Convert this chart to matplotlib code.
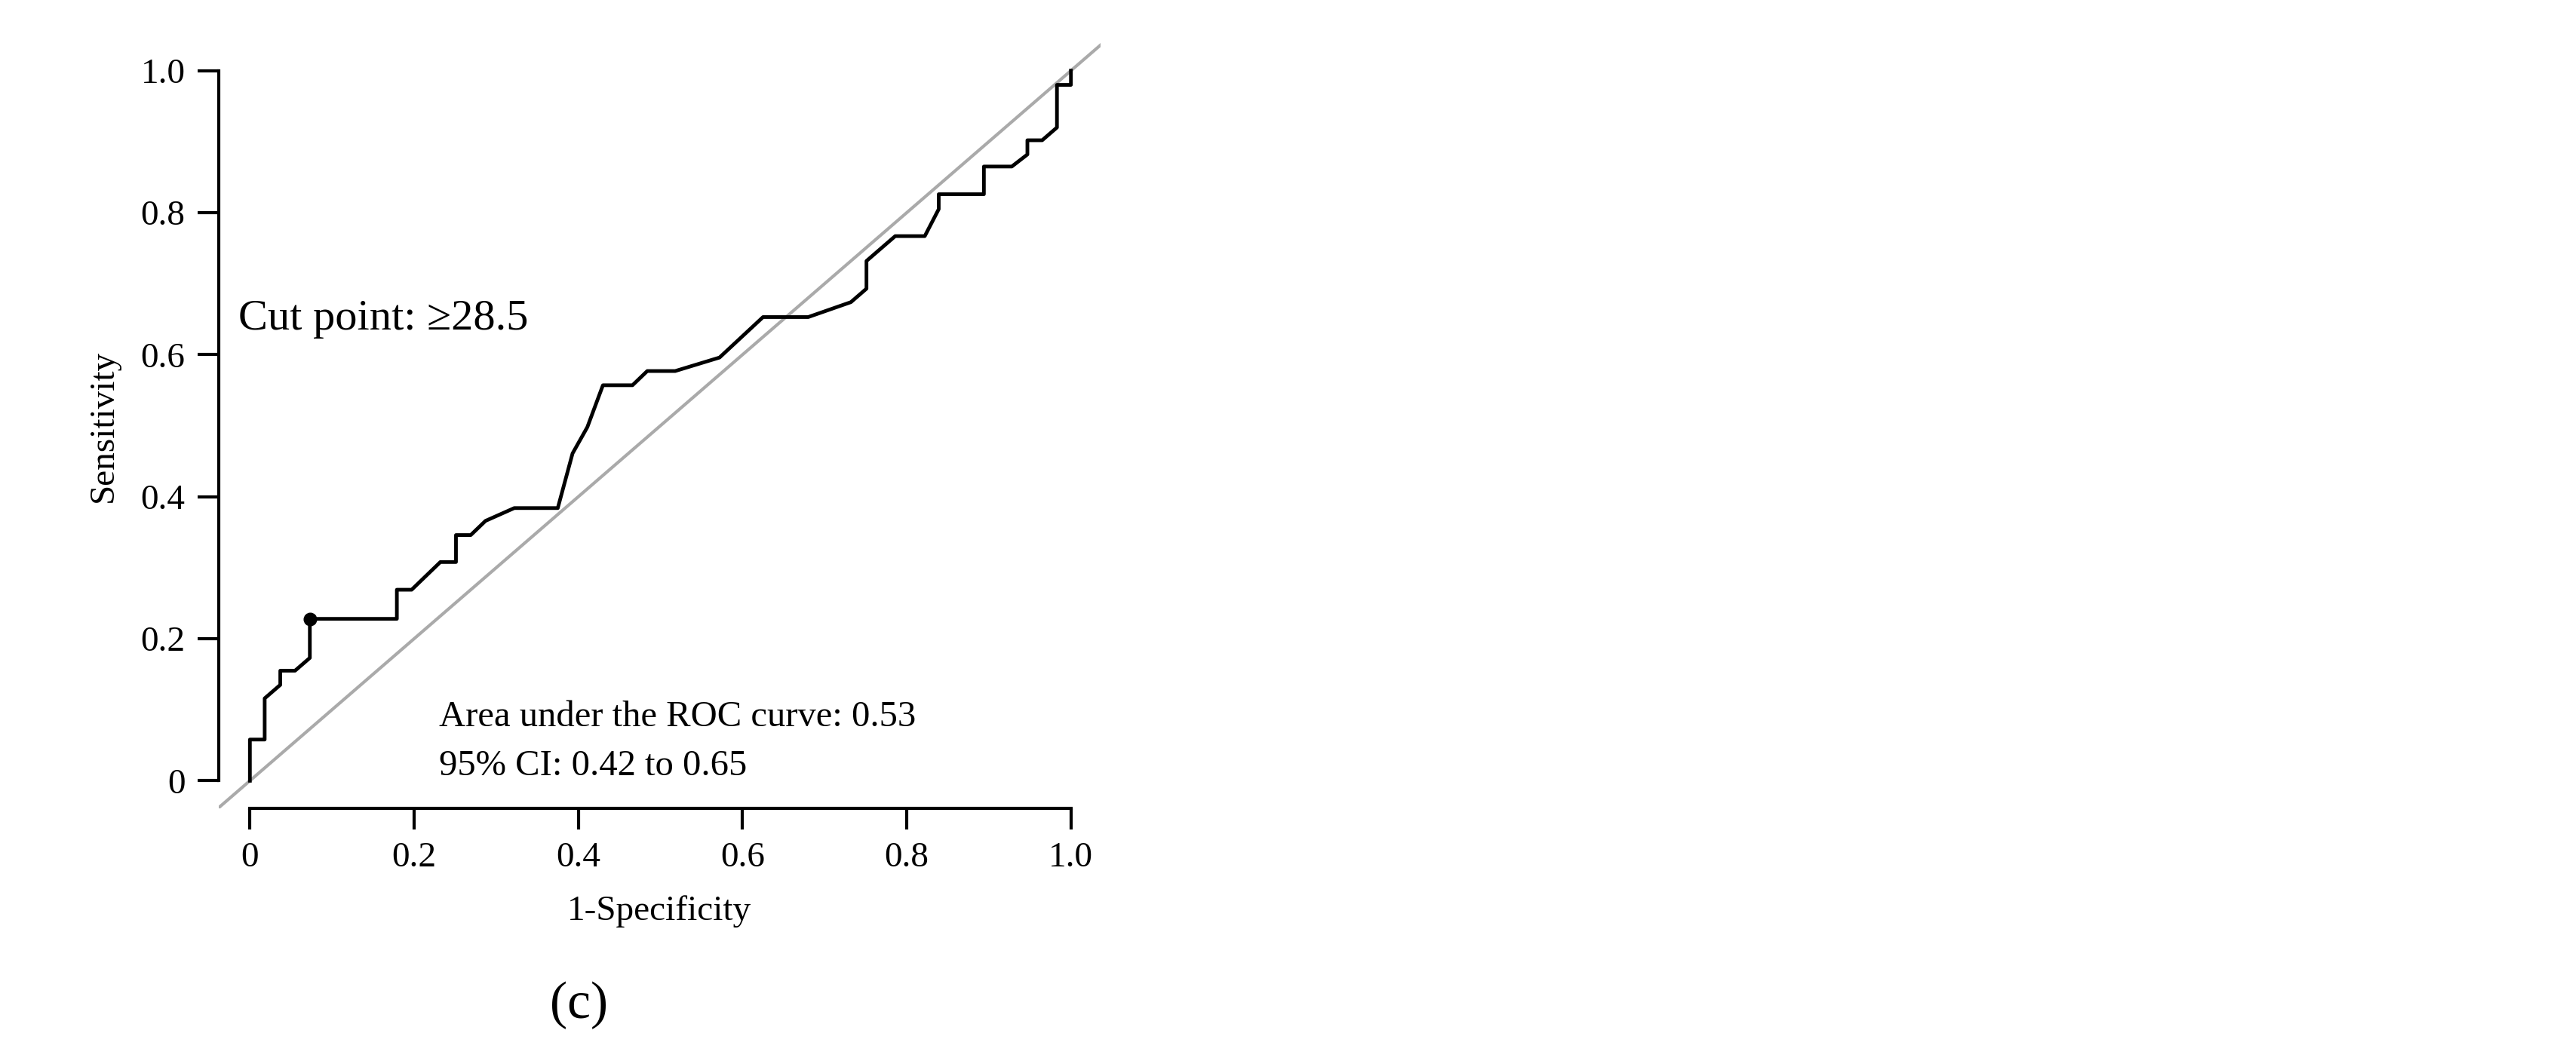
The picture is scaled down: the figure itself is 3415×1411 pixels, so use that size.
import matplotlib
matplotlib.use("Agg")
import matplotlib.pyplot as plt

fpr = [0, 0, 0.018, 0.018, 0.037, 0.037, 0.055, 0.073, 0.073, 0.179, 0.179, 0.197, 0.232, 0.251, 0.251,
       0.269, 0.287, 0.322, 0.375, 0.393, 0.411, 0.430, 0.466, 0.484, 0.518, 0.572, 0.625, 0.680, 0.732,
       0.751, 0.751, 0.786, 0.822, 0.839, 0.839, 0.894, 0.894, 0.928, 0.947, 0.947, 0.965, 0.983, 0.983, 1.0, 1.0]
tpr = [0, 0.058, 0.058, 0.116, 0.135, 0.155, 0.155, 0.173, 0.228, 0.228, 0.269, 0.269, 0.308, 0.308, 0.346,
       0.346, 0.366, 0.384, 0.384, 0.461, 0.498, 0.557, 0.557, 0.577, 0.577, 0.596, 0.653, 0.653, 0.674,
       0.693, 0.732, 0.767, 0.767, 0.805, 0.826, 0.826, 0.865, 0.865, 0.882, 0.902, 0.902, 0.920, 0.980, 0.980, 1.0]
cut_x, cut_y = 0.073, 0.228
ticks = [0, 0.2, 0.4, 0.6, 0.8, 1.0]
tick_labels = ["0", "0.2", "0.4", "0.6", "0.8", "1.0"]

plt.rcParams['font.family'] = ['Liberation Serif', 'DejaVu Serif']
fig = plt.figure(figsize=(34.15, 14.11), dpi=100)
ax = fig.add_axes([0.0849, 0.2402, 0.4272 - 0.0849, 0.9596 - 0.2402])
ax.set_xlim(-0.038, 1.036)
ax.set_ylim(-0.039, 1.039)
ax.plot([-0.1, 1.1], [-0.1, 1.1], color='#aaaaaa', lw=3, clip_on=True)
ax.plot(fpr, tpr, color='black', lw=3.5)
ax.plot([cut_x], [cut_y], 'o', color='black', ms=12)
for s in ['top', 'right']:
    ax.spines[s].set_visible(False)
for s in ['left', 'bottom']:
    ax.spines[s].set_bounds(0, 1)
    ax.spines[s].set_linewidth(3)
ax.set_xticks(ticks, tick_labels)
ax.set_yticks(ticks, tick_labels)
ax.tick_params(length=20, width=3, labelsize=34, pad=12)
ax.set_xlabel("1-Specificity", fontsize=34, labelpad=20)
ax.set_ylabel("Sensitivity", fontsize=34, labelpad=20)
ax.text(-0.014, 0.65, "Cut point: \u226528.5", fontsize=42, va='center', ha='left')
ax.text(0.23, 0.09, "Area under the ROC curve: 0.53", fontsize=35, va='center', ha='left')
ax.text(0.23, 0.021, "95% CI: 0.42 to 0.65", fontsize=35, va='center', ha='left')
fig.text(0.2246, 0.055, "(c)", fontsize=50, ha='center', va='center')
fig.savefig("out.png", dpi=100)
